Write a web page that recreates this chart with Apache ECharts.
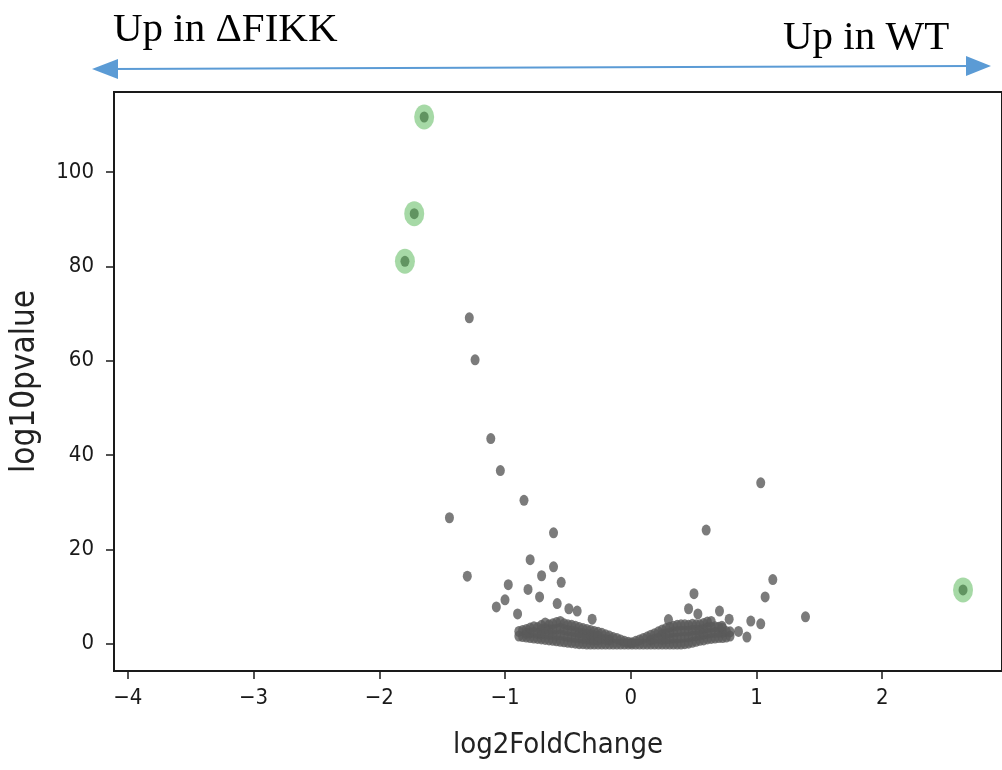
<!DOCTYPE html>
<html>
<head>
<meta charset="utf-8">
<script src="https://cdn.jsdelivr.net/npm/echarts@6/dist/echarts.min.js"></script>
<style>
html,body{margin:0;padding:0;background:#fff;}
#chart{width:1002px;height:770px;}
</style>
</head>
<body>
<div id="chart"></div>
<script>
// ---- data (log2FoldChange, log10pvalue) ----
const highlightPoints = [
  [-1.643, 111.7], [-1.722, 91.2], [-1.796, 81.1], [2.643, 11.4]
];
const outlierPoints = [
  [-1.284, 69.1], [-1.238, 60.2], [-1.113, 43.5], [-1.037, 36.7], [-0.849, 30.4],
  [-1.442, 26.7], [-0.614, 23.5], [1.034, 34.1], [0.600, 24.1], [-0.800, 17.8],
  [-0.614, 16.3], [-1.300, 14.3], [-0.709, 14.4], [-0.553, 13.0], [1.130, 13.6],
  [-0.974, 12.5], [-0.817, 11.5], [-1.000, 9.3], [-1.069, 7.8], [-0.725, 9.9],
  [-0.585, 8.5], [-0.492, 7.4], [-0.900, 6.3], [-0.426, 6.9], [-0.307, 5.2],
  [0.503, 10.6], [0.460, 7.4], [0.534, 6.3], [0.706, 6.9], [0.783, 5.2],
  [1.069, 9.9], [1.390, 5.7], [1.034, 4.2], [0.955, 4.8], [0.924, 1.4],
  [0.857, 2.6], [0.725, 3.7], [0.300, 5.1]
];
const clusterPoints = [
  [-0.89, 1.6], [-0.89, 2.6],
  [-0.86, 1.5], [-0.86, 2.8],
  [-0.83, 1.4], [-0.83, 2.2], [-0.83, 3.0],
  [-0.80, 1.3], [-0.80, 2.3], [-0.80, 3.3],
  [-0.77, 1.2], [-0.77, 2.4], [-0.77, 3.6],
  [-0.74, 1.1], [-0.74, 2.2], [-0.74, 3.4],
  [-0.71, 1.0], [-0.71, 2.0], [-0.71, 3.0], [-0.71, 3.9],
  [-0.68, 0.9], [-0.68, 2.0], [-0.68, 3.2], [-0.68, 4.4],
  [-0.65, 0.8], [-0.65, 1.9], [-0.65, 3.0], [-0.65, 4.0],
  [-0.62, 0.7], [-0.62, 1.9], [-0.62, 3.0], [-0.62, 4.2],
  [-0.59, 0.6], [-0.59, 1.8], [-0.59, 3.1], [-0.59, 4.5],
  [-0.56, 0.5], [-0.56, 1.9], [-0.56, 3.3], [-0.56, 4.7],
  [-0.53, 0.4], [-0.53, 1.7], [-0.53, 3.0], [-0.53, 4.2],
  [-0.50, 0.3], [-0.50, 1.5], [-0.50, 2.8], [-0.50, 4.0],
  [-0.47, 0.2], [-0.47, 1.4], [-0.47, 2.7], [-0.47, 3.9],
  [-0.44, 0.1], [-0.44, 1.3], [-0.44, 2.5], [-0.44, 3.7],
  [-0.41, 0.0], [-0.41, 1.2], [-0.41, 2.3], [-0.41, 3.4],
  [-0.38, 0.0], [-0.38, 1.1], [-0.38, 2.2], [-0.38, 3.2],
  [-0.35, -0.1], [-0.35, 1.0], [-0.35, 2.0], [-0.35, 3.0],
  [-0.32, -0.1], [-0.32, 0.9], [-0.32, 1.9], [-0.32, 2.8],
  [-0.29, -0.1], [-0.29, 0.8], [-0.29, 1.7], [-0.29, 2.6],
  [-0.26, -0.1], [-0.26, 0.8], [-0.26, 1.6], [-0.26, 2.4],
  [-0.23, -0.1], [-0.23, 1.0], [-0.23, 2.2],
  [-0.20, -0.1], [-0.20, 0.9], [-0.20, 1.9],
  [-0.17, -0.1], [-0.17, 0.8], [-0.17, 1.6],
  [-0.14, -0.1], [-0.14, 1.3],
  [-0.11, -0.1], [-0.11, 1.1],
  [-0.08, -0.1], [-0.08, 0.8],
  [-0.05, -0.1], [-0.05, 0.5],
  [-0.02, -0.1], [-0.02, 0.3],
  [0.01, -0.1], [0.01, 0.2],
  [0.04, -0.1], [0.04, 0.5],
  [0.07, -0.1], [0.07, 0.8],
  [0.10, -0.1], [0.10, 1.1],
  [0.13, -0.1], [0.13, 1.4],
  [0.16, -0.1], [0.16, 0.8], [0.16, 1.8],
  [0.19, -0.1], [0.19, 1.0], [0.19, 2.1],
  [0.22, -0.1], [0.22, 1.2], [0.22, 2.5],
  [0.25, -0.1], [0.25, 0.9], [0.25, 1.9], [0.25, 2.9],
  [0.28, -0.1], [0.28, 1.0], [0.28, 2.1], [0.28, 3.2],
  [0.31, -0.1], [0.31, 1.1], [0.31, 2.3], [0.31, 3.5],
  [0.34, -0.1], [0.34, 1.2], [0.34, 2.5], [0.34, 3.7],
  [0.37, -0.1], [0.37, 1.2], [0.37, 2.6], [0.37, 3.9],
  [0.40, -0.1], [0.40, 1.3], [0.40, 2.7], [0.40, 4.0],
  [0.43, 0.0], [0.43, 1.4], [0.43, 2.7], [0.43, 4.0],
  [0.46, 0.1], [0.46, 1.4], [0.46, 2.7], [0.46, 3.9],
  [0.49, 0.3], [0.49, 1.6], [0.49, 2.9], [0.49, 4.1],
  [0.52, 0.5], [0.52, 1.7], [0.52, 2.9], [0.52, 4.0],
  [0.55, 0.7], [0.55, 1.8], [0.55, 2.9], [0.55, 4.0],
  [0.58, 0.8], [0.58, 2.0], [0.58, 3.1], [0.58, 4.3],
  [0.61, 1.0], [0.61, 2.2], [0.61, 3.4], [0.61, 4.6],
  [0.64, 1.1], [0.64, 2.3], [0.64, 3.5], [0.64, 4.7],
  [0.67, 1.2], [0.67, 2.4], [0.67, 3.6],
  [0.70, 1.3], [0.70, 2.4], [0.70, 3.5],
  [0.73, 1.3], [0.73, 2.4], [0.73, 3.3],
  [0.76, 1.4], [0.76, 2.6],
  [0.79, 1.6], [0.79, 2.5]
];
const xTicks = [-4, -3, -2, -1, 0, 1, 2];
const yTicks = [0, 20, 40, 60, 80, 100];
const xName = 'log2FoldChange';
const yName = 'log10pvalue';
const leftNote = 'Up in ΔFIKK';
const rightNote = 'Up in WT';

const tickFont = "'DejaVu Sans Condensed', 'Liberation Sans Narrow', 'DejaVu Sans', sans-serif";
const serifFont = "'Liberation Serif', 'Times New Roman', serif";
const grayPoints = clusterPoints.concat(outlierPoints, highlightPoints);
const fmt = v => (v < 0 ? '\u2212' + Math.abs(v) : String(v));

const chart = echarts.init(document.getElementById('chart'), null, {renderer: 'canvas'});
const arrowColor = '#5b9bd5';
chart.setOption({
  animation: false,
  backgroundColor: '#fff',
  title: [
    {text: leftNote, left: 108, top: 5,
     textStyle: {fontFamily: serifFont, fontSize: 41, fontWeight: 'normal', color: '#000'}},
    {text: rightNote, left: 778, top: 13,
     textStyle: {fontFamily: serifFont, fontSize: 41, fontWeight: 'normal', color: '#000'}}
  ],
  graphic: [
    {type: 'line', shape: {x1: 110, y1: 69, x2: 972, y2: 66}, style: {stroke: arrowColor, lineWidth: 2}},
    {type: 'polygon', shape: {points: [[92, 69], [118, 59], [118, 79]]}, style: {fill: arrowColor}},
    {type: 'polygon', shape: {points: [[991, 66], [966, 56], [966, 76]]}, style: {fill: arrowColor}}
  ],
  grid: {left: 114, top: 92, width: 890, height: 579, show: true, borderColor: '#1a1a1a', borderWidth: 2, containLabel: false},
  xAxis: {
    type: 'value', min: -4.11, max: 2.953,
    name: xName, nameLocation: 'middle', nameGap: 60,
    nameTextStyle: {fontFamily: tickFont, fontSize: 29, color: '#222'},
    splitLine: {show: false},
    axisLine: {show: true, onZero: false, lineStyle: {color: '#1a1a1a', width: 2}},
    axisTick: {show: true, inside: false, length: 8, customValues: xTicks, lineStyle: {color: '#1a1a1a', width: 1.5}},
    axisLabel: {customValues: xTicks, formatter: fmt, margin: 16, fontFamily: tickFont, fontSize: 22, color: '#1a1a1a'}
  },
  yAxis: {
    type: 'value', min: -5.8, max: 117,
    name: yName, nameLocation: 'middle', nameGap: 72, nameRotate: 90,
    nameTextStyle: {fontFamily: tickFont, fontSize: 33, color: '#222'},
    splitLine: {show: false},
    axisLine: {show: true, onZero: false, lineStyle: {color: '#1a1a1a', width: 2}},
    axisTick: {show: true, inside: false, length: 8, customValues: yTicks, lineStyle: {color: '#1a1a1a', width: 1.5}},
    axisLabel: {customValues: yTicks, formatter: fmt, margin: 20, fontFamily: tickFont, fontSize: 22, color: '#1a1a1a'}
  },
  series: [
    {type: 'scatter', name: 'genes', data: grayPoints, symbol: 'circle', symbolSize: [9, 11],
     itemStyle: {color: '#5a5a5a'}, z: 2, emphasis: {disabled: true}},
    {type: 'scatter', name: 'highlight', data: highlightPoints, symbol: 'circle', symbolSize: [20, 25],
     itemStyle: {color: 'rgba(70,175,70,0.6)'}, z: 3, emphasis: {disabled: true}}
  ]
});
</script>
</body>
</html>
